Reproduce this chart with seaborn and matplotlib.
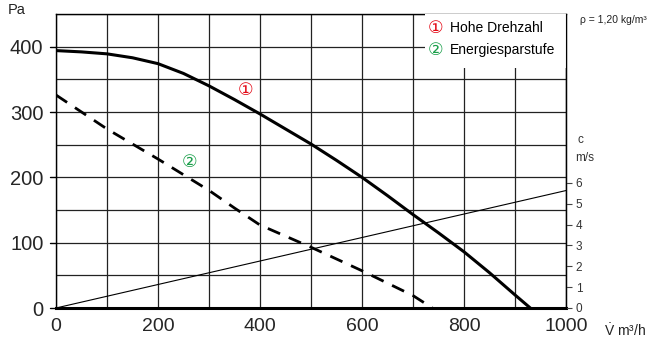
import numpy as np
import pandas as pd
import matplotlib
matplotlib.use("Agg")
import matplotlib.pyplot as plt
import seaborn as sns
from matplotlib.patches import Rectangle

# Kennlinien
volume_high = [0, 50, 100, 150, 200, 250, 300, 350, 400, 450, 500, 550, 600, 650, 700, 750, 800, 850, 900, 930]
pressure_high = [394, 392, 389, 383, 374, 359, 340, 319, 297, 274, 251, 226, 200, 172, 143, 115, 86, 54, 20, 0]

volume_eco = [0, 50, 100, 150, 200, 250, 300, 350, 400, 450, 500, 550, 600, 650, 700, 738]
pressure_eco = [326, 300, 274, 251, 228, 204, 180, 153, 127, 110, 93, 75, 57, 38, 19, 0]

volume_speed = [0, 1000]
speed = [0, 5.63]

x_ticks = [0, 200, 400, 600, 800, 1000]
y_ticks = [0, 100, 200, 300, 400]
c_ticks = [0, 1, 2, 3, 4, 5, 6]
legend_labels = ["Hohe Drehzahl", "Energiesparstufe"]

sns.set_style("white")
plt.rcParams["font.family"] = ["Liberation Sans", "DejaVu Sans"]
plt.rcParams["mathtext.fontset"] = "custom"
plt.rcParams["mathtext.rm"] = "Liberation Sans"

red = "#e30613"
green = "#1a9f4a"

fig = plt.figure(figsize=(6.61, 3.45), dpi=100)
ax = fig.add_axes([56 / 661, 37 / 345, 510 / 661, 294 / 345])

df_high = pd.DataFrame({"V": volume_high, "p": pressure_high})
df_eco = pd.DataFrame({"V": volume_eco, "p": pressure_eco})

sns.lineplot(data=df_high, x="V", y="p", ax=ax, color="black", linewidth=2.2, zorder=5)
sns.lineplot(data=df_eco, x="V", y="p", ax=ax, color="black", linewidth=2.0,
             dashes=False, zorder=5).lines[-1].set_dashes([4.8, 3.4])

ax.set_xlim(0, 1000)
ax.set_ylim(0, 450)
ax.set_xticks(np.arange(0, 1001, 100))
ax.set_xticklabels([str(v) if v in x_ticks else "" for v in range(0, 1001, 100)])
ax.set_yticks(np.arange(0, 451, 50))
ax.set_yticklabels([str(v) if v in y_ticks else "" for v in range(0, 451, 50)])
ax.grid(True, color="#222222", linewidth=0.9, zorder=1)
ax.set_axisbelow(True)
ax.tick_params(axis="x", length=0, pad=7.5, labelsize=14)
ax.tick_params(axis="y", length=0, pad=9, labelsize=14.5)
ax.set_xlabel("")
ax.set_ylabel("")
for s in ax.spines.values():
    s.set_color("black")
    s.set_linewidth(1.0)
ax.spines["bottom"].set_linewidth(2.2)

# kleine Striche links bei den beschrifteten Werten
for v in y_ticks:
    ax.plot([-0.012, 0], [v, v], transform=ax.get_yaxis_transform(), color="black",
            linewidth=1.0, clip_on=False)

# Luftgeschwindigkeit (rechte Achse)
ax2 = ax.twinx()
sns.lineplot(x=volume_speed, y=speed, ax=ax2, color="black", linewidth=0.8)
ax2.set_ylim(0, 450 * 6 / 191.6)
ax2.set_yticks(c_ticks)
ax2.tick_params(axis="y", length=4, width=0.8, color="#444444", pad=3, labelsize=8.5, labelcolor="#333333")
ax2.set_ylabel("")
for s in ax2.spines.values():
    s.set_visible(False)
ax2.spines["right"].set_visible(True)
ax2.spines["right"].set_color("black")

# Legendenkasten
ax.add_patch(Rectangle((369 / 510, 240 / 294), 141 / 510, 54 / 294, transform=ax.transAxes,
                       facecolor="white", edgecolor="none", zorder=3))
ax.text(372 / 510, 280 / 294, "①", transform=ax.transAxes, color=red, fontsize=12.5,
        family=["DejaVu Sans"], va="center", zorder=6)
ax.text(394 / 510, 280 / 294, legend_labels[0], transform=ax.transAxes, color="black", fontsize=10,
        va="center", zorder=6)
ax.text(372 / 510, 258 / 294, "②", transform=ax.transAxes, color=green, fontsize=12.5,
        family=["DejaVu Sans"], va="center", zorder=6)
ax.text(394 / 510, 258 / 294, legend_labels[1], transform=ax.transAxes, color="black", fontsize=10,
        va="center", zorder=6)

# Kurvennummern
ax.text(372, 334, "①", color=red, fontsize=12.5, family=["DejaVu Sans"], ha="center", va="center", zorder=6)
ax.text(261, 223, "②", color=green, fontsize=12.5, family=["DejaVu Sans"], ha="center", va="center", zorder=6)

# Achsenbeschriftungen
fig.text(8 / 661, 1 - 10 / 345, "Pa", fontsize=10.5, color="#222222", va="center")
fig.text(580 / 661, 1 - 20 / 345, "ρ = 1,20 kg/m³", fontsize=7.5, color="#222222", va="center")
fig.text(578 / 661, 1 - 140 / 345, "c", fontsize=8.5, color="#333333", va="center")
fig.text(575 / 661, 1 - 158 / 345, "m/s", fontsize=8.5, color="#333333", va="center")
fig.text(604 / 661, 1 - 331 / 345, r"$\dot{\mathrm{V}}$ m³/h", fontsize=10, color="#222222", va="center")

fig.savefig("out.png", dpi=100)
